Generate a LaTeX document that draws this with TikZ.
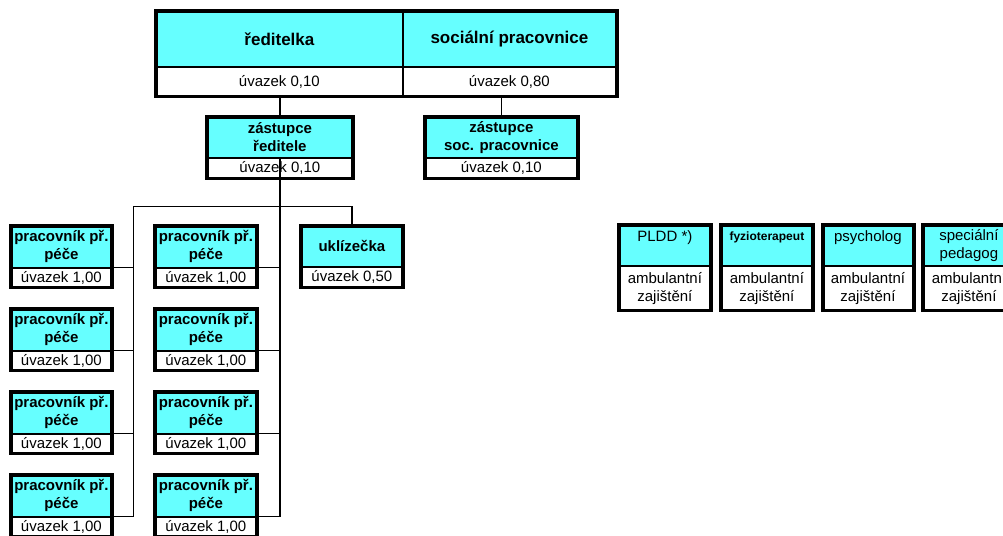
\documentclass[tikz,border=0pt]{standalone}
\usepackage{fontspec}
\setmainfont{Liberation Sans}
\usetikzlibrary{calc}

\definecolor{boxcyan}{RGB}{102,255,255}

\tikzset{
  jobpart/.style={draw, line width=0.8pt, fill=boxcyan, inner sep=0pt, anchor=north west,
    align=center, font=\bfseries\fontsize{15}{18}\selectfont},
  loadpart/.style={draw, line width=0.8pt, fill=white, inner sep=0pt, anchor=north,
    align=center, font=\fontsize{15}{18}\selectfont},
  boxframe/.style={draw, line width=3.5pt},
  mainline/.style={draw, line width=1.6pt},
  thinline/.style={draw, line width=0.9pt},
}

\begin{document}
\begin{tikzpicture}[x=1pt, y=-1pt]
\useasboundingbox[fill=white] (0,0) rectangle (1003,535);

% vedeni
\node[jobpart, font=\bfseries\fontsize{17}{20}\selectfont, minimum width=246pt, minimum height=55pt] (reditelka) at (156,11) {ředitelka};
\node[loadpart, minimum width=246pt, minimum height=29pt] (reditelka-u) at (reditelka.south) {úvazek 0,10};
\node[jobpart, font=\bfseries\fontsize{17}{20}\selectfont, minimum width=214pt, minimum height=55pt] (socialni) at (402,11) {sociální pracovnice};
\node[loadpart, minimum width=214pt, minimum height=29pt] (socialni-u) at (socialni.south) {úvazek 0,80};
\draw[boxframe] (reditelka.north west) rectangle (socialni-u.south east);
\draw[line width=2.5pt] (reditelka.north east) -- (reditelka-u.south east);

% zastupci
\node[jobpart, minimum width=145pt, minimum height=40pt] (zastR) at (207,117) {zástupce\\ředitele};
\node[loadpart, minimum width=145pt, minimum height=20pt] (zastR-u) at (zastR.south) {úvazek 0,10};
\draw[boxframe] (zastR.north west) rectangle (zastR-u.south east);
\node[jobpart, minimum width=152pt, minimum height=40pt] (zastS) at (425,117) {zástupce\\soc. pracovnice};
\node[loadpart, minimum width=152pt, minimum height=20pt] (zastS-u) at (zastS.south) {úvazek 0,10};
\draw[boxframe] (zastS.north west) rectangle (zastS-u.south east);

\draw[mainline] (zastR.north) -- (zastR.north |- reditelka-u.south);
\draw[mainline] (zastS.north) -- (zastS.north |- socialni-u.south);

% uklizecka
\node[jobpart, minimum width=101pt, minimum height=40pt] (uklizecka) at (301,226) {uklízečka};
\node[loadpart, minimum width=101pt, minimum height=20pt] (uklizecka-u) at (uklizecka.south) {úvazek 0,50};
\draw[boxframe] (uklizecka.north west) rectangle (uklizecka-u.south east);

\coordinate (busL) at (133,206);
\coordinate (busR) at (uklizecka.north |- busL);
\draw[thinline] (busL) -- (busR);
\draw[mainline] (busR) -- (uklizecka.north);

% pracovnici prime pece
\foreach \r in {1,...,4} {
  \pgfmathsetmacro\rowy{226+83*(\r-1)}
  \node[jobpart, minimum width=100pt, minimum height=41pt] (wL\r) at (11,\rowy) {pracovník př.\\péče};
  \node[loadpart, minimum width=100pt, minimum height=19pt] (wL\r-u) at (wL\r.south) {úvazek 1,00};
  \draw[boxframe] (wL\r.north west) rectangle (wL\r-u.south east);
  \node[jobpart, minimum width=101pt, minimum height=41pt] (wM\r) at (155,\rowy) {pracovník př.\\péče};
  \node[loadpart, minimum width=101pt, minimum height=19pt] (wM\r-u) at (wM\r.south) {úvazek 1,00};
  \draw[boxframe] (wM\r.north west) rectangle (wM\r-u.south east);
  \draw[thinline] (wL\r.south east) -- (wL\r.south east -| busL);
  \draw[thinline] (wM\r.south east) -- (wM\r.south east -| zastR.south);
}
\draw[thinline] (busL) -- (busL |- wL4.south east);
\draw[mainline] (zastR.south) -- (zastR.south |- wM4.south east);

% ambulantni zajisteni
\node[jobpart, font=\fontsize{15}{18}\selectfont, minimum width=91pt, minimum height=40pt] (pldd) at (619,225) {PLDD *)\\\phantom{x}};
\node[jobpart, font=\bfseries\fontsize{12}{18}\selectfont, minimum width=91pt, minimum height=40pt] (fyzio) at (721,225) {fyzioterapeut\\\phantom{x}};
\node[jobpart, font=\fontsize{15}{18}\selectfont, minimum width=89pt, minimum height=40pt] (psycholog) at (823,225) {psycholog\\\phantom{x}};
\node[jobpart, font=\fontsize{15}{18}\selectfont, minimum width=91pt, minimum height=40pt] (pedagog) at (923,225) {speciální\\pedagog};
\foreach \b in {pldd, fyzio, psycholog, pedagog} {
  \node[loadpart, minimum width=91pt, minimum height=44pt] (\b-u) at (\b.south) {ambulantní\\zajištění};
  \draw[boxframe] (\b.north west) rectangle (\b-u.south east);
}
\end{tikzpicture}
\end{document}
